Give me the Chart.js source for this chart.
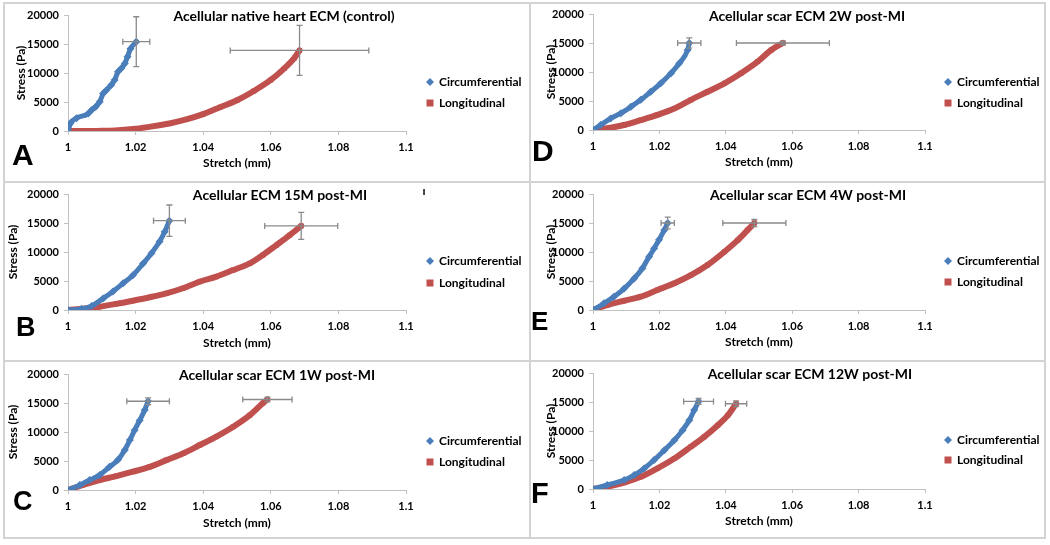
<!DOCTYPE html>
<html><head><meta charset="utf-8">
<script src="https://cdn.jsdelivr.net/npm/chart.js@4.4.1/dist/chart.umd.min.js"></script>
<style>
html,body{margin:0;padding:0;background:#fff;}
body{width:1050px;height:545px;position:relative;overflow:hidden;}
canvas.pc{position:absolute;left:0;top:0;}
.ln{position:absolute;background:#d3d3d3;}
</style></head>
<body>
<div class="ln" style="left:3px;top:2px;width:1043px;height:2px"></div>
<div class="ln" style="left:3px;top:537px;width:1043px;height:2px"></div>
<div class="ln" style="left:3px;top:2px;width:2px;height:537px"></div>
<div class="ln" style="left:1044px;top:2px;width:2px;height:537px"></div>
<div class="ln" style="left:529px;top:2px;width:2px;height:537px"></div>
<div class="ln" style="left:3px;top:181px;width:1043px;height:2px"></div>
<div class="ln" style="left:3px;top:360px;width:1043px;height:2px"></div>
<script>
// ---------- DATA ----------
const stretchTicks = [1, 1.02, 1.04, 1.06, 1.08, 1.1];
const stressTicks = [0, 5000, 10000, 15000, 20000];
const seriesNames = ['Circumferential', 'Longitudinal'];
const panelLetters = ['A', 'B', 'C', 'D', 'E', 'F'];
const panelTitles = [
  'Acellular native heart ECM (control)',
  'Acellular ECM 15M post-MI',
  'Acellular scar ECM 1W post-MI',
  'Acellular scar ECM 2W post-MI',
  'Acellular scar ECM 4W post-MI',
  'Acellular scar ECM 12W post-MI'
];

// A - native heart (control)
const circStretchA = [1, 1.0008, 1.0025, 1.006, 1.007, 1.0082, 1.0094, 1.0104, 1.0114, 1.0128, 1.0138, 1.0148, 1.0158, 1.0168, 1.0176, 1.0185, 1.0202];
const circStressA  = [0, 1400, 2200, 3000, 3600, 4200, 5050, 6450, 7050, 7950, 8800, 10200, 10800, 11650, 12800, 14200, 15400];
const longStretchA = [1, 1.002, 1.005, 1.01, 1.015, 1.02, 1.025, 1.03, 1.035, 1.04, 1.045, 1.05, 1.055, 1.06, 1.064, 1.067, 1.0685];
const longStressA  = [0, 0, 0, 50, 150, 400, 800, 1300, 2000, 2900, 4100, 5300, 6900, 8800, 10800, 12600, 13900];
const errStretchA = [0.004, 0.0205];
const errStressA  = [4300, 4300];

// B - 15M post-MI
const circStretchB = [1, 1.004, 1.007, 1.0104, 1.0133, 1.0163, 1.0192, 1.0222, 1.0247, 1.0271, 1.0286, 1.030];
const circStressB  = [0, 200, 700, 2000, 3200, 4600, 6000, 8000, 9800, 11800, 13500, 15400];
const longStretchB = [1, 1.005, 1.0094, 1.0143, 1.0192, 1.0242, 1.0291, 1.034, 1.039, 1.0439, 1.0489, 1.0538, 1.0577, 1.0617, 1.0656, 1.069];
const longStressB  = [0, 250, 575, 1050, 1600, 2200, 2870, 3750, 4900, 5750, 6900, 8050, 9500, 11200, 12900, 14500];
const errStretchB = [0.0047, 0.0108];
const errStressB  = [2700, 2330];

// C - scar 1W post-MI
const circStretchC = [1, 1.0035, 1.0064, 1.0094, 1.0123, 1.0148, 1.0168, 1.0183, 1.0197, 1.0212, 1.0227, 1.0237];
const circStressC  = [0, 860, 1720, 2600, 4000, 5200, 6900, 8600, 10300, 12000, 13800, 15300];
const longStretchC = [1, 1.0044, 1.0094, 1.0143, 1.0192, 1.0242, 1.0291, 1.034, 1.039, 1.0439, 1.0489, 1.0538, 1.0577, 1.059];
const longStressC  = [0, 860, 1720, 2400, 3150, 4000, 5150, 6300, 7750, 9200, 10900, 12900, 15000, 15600];
const errStretchC = [0.0063, 0.0073];
const errStressC  = [600, 400];

// D - scar 2W post-MI
const circStretchD = [1, 1.0023, 1.0053, 1.0084, 1.0114, 1.0144, 1.0174, 1.0204, 1.0235, 1.026, 1.0285, 1.029];
const circStressD  = [0, 860, 2000, 2900, 4000, 5200, 6600, 8050, 9800, 11500, 13800, 15000];
const longStretchD = [1, 1.0053, 1.0094, 1.0144, 1.0194, 1.0245, 1.0295, 1.0345, 1.0396, 1.0446, 1.0496, 1.0537, 1.0572];
const longStressD  = [0, 400, 860, 1700, 2600, 3700, 5200, 6600, 8050, 9800, 11800, 13800, 15000];
const errStretchD = [0.0035, 0.014];
const errStressD  = [900, 300];

// E - scar 4W post-MI
const circStretchE = [1, 1.0033, 1.0063, 1.0094, 1.0124, 1.0149, 1.0169, 1.0184, 1.0199, 1.0215, 1.0225];
const circStressE  = [0, 1150, 2300, 3700, 5450, 7200, 9200, 10600, 12100, 13800, 15000];
const longStretchE = [1, 1.0043, 1.0094, 1.0144, 1.0194, 1.0245, 1.0295, 1.0345, 1.0396, 1.0436, 1.0466, 1.0486];
const longStressE  = [0, 860, 1600, 2300, 3450, 4600, 6000, 7750, 10050, 12050, 13800, 15000];
const errStretchE = [0.002, 0.0095];
const errStressE  = [1000, 600];

// F - scar 12W post-MI
const circStretchF = [1, 1.0043, 1.0094, 1.0124, 1.0154, 1.0184, 1.0215, 1.0245, 1.027, 1.029, 1.0305, 1.0318];
const circStressF  = [0, 690, 1550, 2400, 3550, 5000, 6700, 8400, 10150, 11850, 13600, 15100];
const longStretchF = [1, 1.0043, 1.0094, 1.0144, 1.0194, 1.0245, 1.0295, 1.0335, 1.0376, 1.0406, 1.0431];
const longStressF  = [0, 400, 1100, 2100, 3550, 5250, 7300, 9000, 11000, 12700, 14700];
const errStretchF = [0.0045, 0.0032];
const errStressF  = [500, 500];

// ---------- LAYOUT (page pixels) ----------
const panelData = [
  [circStretchA, circStressA, longStretchA, longStressA, errStretchA, errStressA],
  [circStretchB, circStressB, longStretchB, longStressB, errStretchB, errStressB],
  [circStretchC, circStressC, longStretchC, longStressC, errStretchC, errStressC],
  [circStretchD, circStressD, longStretchD, longStressD, errStretchD, errStressD],
  [circStretchE, circStressE, longStretchE, longStressE, errStretchE, errStressE],
  [circStretchF, circStressF, longStretchF, longStressF, errStretchF, errStressF]
];
const panelLayout = [
  {l:68,  r:406, t:15,  b:131, yT:21,  xT:163, tx:284, ty:16,  lx:430, ly:[82,103],  kx:12,  ky:165, ks:30},
  {l:68,  r:406, t:194, b:310, yT:13,  xT:343, tx:280, ty:195, lx:430, ly:[261,283], kx:16,  ky:336, ks:27},
  {l:68,  r:406, t:374, b:490, yT:13,  xT:523, tx:277, ty:375, lx:430, ly:[441,462], kx:13,  ky:510, ks:27},
  {l:593, r:925, t:14,  b:130, yT:551, xT:162, tx:807, ty:16,  lx:948, ly:[82,103],  kx:532, ky:161, ks:30},
  {l:593, r:925, t:194, b:310, yT:551, xT:342, tx:808, ty:195, lx:948, ly:[261,282], kx:531, ky:330, ks:26},
  {l:593, r:925, t:373, b:489, yT:551, xT:521, tx:810, ty:374, lx:948, ly:[440,460], kx:531, ky:503, ks:29}
];

const BLUE = '#4a7ebb';
const RED = '#c0504d';
const ERR = '#8a8a8a';
const AXIS = '#c0c0c0';
const W = 1050, H = 545;
const HALF_LH = 7.2; // axis title half line height (12px * 1.2 / 2)

function pts(xs, ys) { return xs.map((x, i) => ({x: x, y: ys[i]})); }

const panelPlugin = {
  id: 'panelDeco',
  afterDatasetsDraw(chart, args, opts) {
    const ctx = chart.ctx, L = opts.layout, xs = chart.scales.x, ys = chart.scales.y;
    // error bars at last point of each series
    ctx.save();
    ctx.strokeStyle = ERR; ctx.lineWidth = 1.3;
    chart.data.datasets.forEach((ds, di) => {
      const p = ds.data[ds.data.length - 1];
      const ex = opts.errX[di], ey = opts.errY[di];
      const cx = xs.getPixelForValue(p.x), cy = ys.getPixelForValue(p.y);
      const x1 = xs.getPixelForValue(p.x - ex), x2 = xs.getPixelForValue(p.x + ex);
      const y1 = ys.getPixelForValue(p.y - ey), y2 = ys.getPixelForValue(p.y + ey);
      const c = 3;
      ctx.beginPath();
      ctx.moveTo(x1, cy); ctx.lineTo(x2, cy);
      ctx.moveTo(x1, cy - c); ctx.lineTo(x1, cy + c);
      ctx.moveTo(x2, cy - c); ctx.lineTo(x2, cy + c);
      ctx.moveTo(cx, y1); ctx.lineTo(cx, y2);
      ctx.moveTo(cx - c, y1); ctx.lineTo(cx + c, y1);
      ctx.moveTo(cx - c, y2); ctx.lineTo(cx + c, y2);
      ctx.stroke();
    });
    ctx.restore();
  },
  afterDraw(chart, args, opts) {
    const ctx = chart.ctx, L = opts.layout;
    ctx.save();
    // title
    ctx.fillStyle = '#000';
    ctx.textAlign = 'center'; ctx.textBaseline = 'middle';
    ctx.font = 'bold 14px Lato, "Open Sans", sans-serif';
    ctx.fillText(opts.title, L.tx, L.ty);
    // panel letter
    ctx.textAlign = 'left'; ctx.textBaseline = 'alphabetic';
    ctx.font = 'bold ' + L.ks + 'px "Liberation Sans", Arial, sans-serif';
    ctx.fillText(opts.letter, L.kx, L.ky);
    // legend
    ctx.font = 'bold 12px Lato, "Open Sans", sans-serif';
    ctx.textBaseline = 'middle';
    chart.data.datasets.forEach((ds, di) => {
      const y = L.ly[di];
      ctx.fillStyle = ds.backgroundColor;
      if (di === 0) {
        ctx.beginPath();
        ctx.moveTo(L.lx, y - 4); ctx.lineTo(L.lx + 4, y); ctx.lineTo(L.lx, y + 4); ctx.lineTo(L.lx - 4, y);
        ctx.closePath(); ctx.fill();
      } else {
        ctx.fillRect(L.lx - 3.5, y - 3.5, 7, 7);
      }
      ctx.fillStyle = '#000';
      ctx.fillText(ds.label, L.lx + 9, y);
    });
    if (opts.extra) {
      ctx.font = 'bold 12px Lato, sans-serif';
      ctx.textAlign = 'center';
      ctx.fillText(opts.extra.text, opts.extra.x, opts.extra.y);
    }
    ctx.restore();
  }
};

const tickFont = {family: 'Lato, "Open Sans", sans-serif', size: 11, weight: 'bold'};
const titleFont = {family: 'Lato, "Open Sans", sans-serif', size: 12, weight: 'bold'};

panelData.forEach((d, i) => {
  const L = panelLayout[i];
  const cv = document.createElement('canvas');
  cv.className = 'pc'; cv.width = W; cv.height = H;
  cv.style.width = W + 'px'; cv.style.height = H + 'px';
  document.body.appendChild(cv);
  const yAxisW = L.l - (L.yT - HALF_LH);
  const xAxisH = (L.xT + HALF_LH) - L.b;
  new Chart(cv.getContext('2d'), {
    type: 'scatter',
    data: {
      datasets: [
        {label: seriesNames[0], data: pts(d[0], d[1]), showLine: true,
         borderColor: BLUE, backgroundColor: BLUE, borderWidth: 5,
         cubicInterpolationMode: 'monotone', borderJoinStyle: 'round', borderCapStyle: 'round',
         pointStyle: 'rectRot', pointRadius: 4, pointBorderWidth: 0},
        {label: seriesNames[1], data: pts(d[2], d[3]), showLine: true,
         borderColor: RED, backgroundColor: RED, borderWidth: 6,
         cubicInterpolationMode: 'monotone', borderJoinStyle: 'round', borderCapStyle: 'round',
         pointStyle: 'rect', pointRadius: 3.5, pointBorderWidth: 0}
      ]
    },
    options: {
      responsive: false, animation: false, devicePixelRatio: 1,
      events: [],
      layout: {padding: {left: L.l - yAxisW, top: L.t, right: W - L.r, bottom: H - (L.b + xAxisH)}},
      plugins: {
        legend: {display: false}, tooltip: {enabled: false},
        panelDeco: {layout: L, title: panelTitles[i], letter: panelLetters[i],
                    errX: d[4], errY: d[5],
                    extra: i === 1 ? {text: 'ı', x: 424, y: 191} : null}
      },
      scales: {
        x: {
          type: 'linear', min: stretchTicks[0], max: stretchTicks[stretchTicks.length - 1],
          afterBuildTicks: s => { s.ticks = stretchTicks.map(v => ({value: v})); },
          afterFit: s => { s.height = xAxisH; },
          ticks: {font: tickFont, color: '#000', padding: 6, maxRotation: 0, autoSkip: false,
                  callback: v => String(Math.round(v * 100) / 100)},
          grid: {drawOnChartArea: false, drawTicks: true, tickLength: 4, color: AXIS},
          border: {color: AXIS, width: 1},
          title: {display: true, text: 'Stretch (mm)', font: titleFont, color: '#000', padding: 0}
        },
        y: {
          type: 'linear', min: stressTicks[0], max: stressTicks[stressTicks.length - 1],
          afterBuildTicks: s => { s.ticks = stressTicks.map(v => ({value: v})); },
          afterFit: s => { s.width = yAxisW; },
          ticks: {font: tickFont, color: '#000', padding: 5, callback: v => String(v)},
          grid: {drawOnChartArea: false, drawTicks: true, tickLength: 4, color: AXIS},
          border: {color: AXIS, width: 1},
          title: {display: true, text: 'Stress (Pa)', font: titleFont, color: '#000', padding: 0}
        }
      }
    },
    plugins: [panelPlugin]
  });
});
</script>
</body></html>
